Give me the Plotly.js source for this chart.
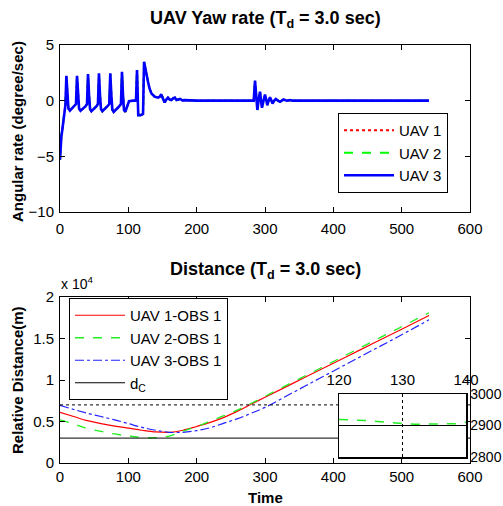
<!DOCTYPE html>
<html>
<head>
<meta charset="utf-8">
<script src="https://cdn.plot.ly/plotly-3.0.1.min.js"></script>
<style>html,body{margin:0;padding:0;background:#fff;}#chart{width:503px;height:506px;}</style>
</head>
<body>
<div id="chart"></div>
<script>
// ---- Yaw rate data (deg/sec) ----
const yawTime = [0,1,2,3,5,7,8,9.3,10.8,12.3,14.5,18,21,23.4,
  24.9,26.4,27.9,30,34,37.5,39.5,
  41,42.5,44,46,50,53.5,55.5,
  57,58.5,60,62,66,69.5,72.1,
  73.6,75.1,76.6,78.6,82.6,86,89.2,
  90.7,92.2,93.7,95.5,98,101,107,111.2,
  112.7,113.7,114.5,118,121.5,
  123,124.5,126.5,128.8,131,133.7,138.5,143.4,146,148.3,150.5,153.2,155.5,158,160.5,163,165.5,168,170.5,173,176,179,182,200,
  283.5,285.4,287,288.8,290.7,292.7,294,295.6,297.8,300,301.7,303.4,305.3,307.3,309,311,313.5,316,319,322,324.5,327,332,337,340,400,540];
const yawUAV1 = [-5.3,-3.8,-3.2,-2.8,-1.8,-0.8,-0.35,2.2,0.5,-0.7,-0.9,-0.7,-0.45,-0.3,
  2.2,0.5,-0.7,-0.9,-0.7,-0.5,-0.3,
  2.35,0.5,-0.75,-0.95,-0.75,-0.5,-0.3,
  2.4,0.5,-0.75,-0.95,-0.75,-0.5,-0.3,
  2.4,0.5,-0.8,-1.0,-0.8,-0.55,-0.3,
  2.55,0.5,-0.85,-1.0,-0.5,-0.05,0,0,
  2.7,0.2,-1.3,-1.3,-1.2,
  3.45,3.0,2.2,1.7,1.1,0.66,0.36,0.27,0.35,0.57,0.2,-0.15,0.1,0.27,0.1,0.06,0.2,0.27,0.05,0.1,0.15,0.03,0.05,0,
  0,1.75,0.5,-0.8,0.1,0.8,0.1,-0.6,0,0.5,0.1,-0.4,0,0.3,0.05,-0.25,0,0.15,0,-0.1,0,0.1,0,0.05,0,0,0];
const yawUAV2 = [-5.3,-3.6,-3.0,-2.6,-1.6,-0.7,-0.3,2.2,0.5,-0.7,-0.9,-0.7,-0.45,-0.3,
  2.2,0.5,-0.7,-0.9,-0.7,-0.5,-0.3,
  2.35,0.5,-0.75,-0.95,-0.75,-0.5,-0.3,
  2.4,0.5,-0.75,-0.95,-0.75,-0.5,-0.3,
  2.4,0.5,-0.8,-1.0,-0.8,-0.55,-0.3,
  2.55,0.5,-0.85,-1.0,-0.5,-0.05,0,0,
  2.7,0.2,-1.3,-1.3,-1.2,
  3.45,3.0,2.2,1.7,1.1,0.66,0.36,0.27,0.35,0.57,0.2,-0.15,0.1,0.27,0.1,0.06,0.2,0.27,0.05,0.1,0.15,0.03,0.05,0,
  0,1.7,0.5,-0.75,0.1,0.75,0.1,-0.55,0,0.45,0.1,-0.35,0,0.25,0.05,-0.2,0,0.1,0,-0.1,0,0.1,0,0.05,0,0,0];
const yawUAV3 = [-5.3,-3.8,-3.2,-2.8,-1.8,-0.8,-0.35,2.24,0.5,-0.7,-0.9,-0.7,-0.45,-0.3,
  2.24,0.5,-0.7,-0.9,-0.7,-0.5,-0.3,
  2.39,0.5,-0.75,-0.95,-0.75,-0.5,-0.3,
  2.45,0.5,-0.75,-0.95,-0.75,-0.5,-0.3,
  2.45,0.5,-0.8,-1.0,-0.8,-0.55,-0.3,
  2.6,0.5,-0.85,-1.0,-0.5,-0.05,0,0,
  2.75,0.2,-1.3,-1.3,-1.2,
  3.5,3.0,2.2,1.7,1.1,0.66,0.36,0.27,0.35,0.57,0.2,-0.15,0.1,0.27,0.1,0.06,0.2,0.27,0.05,0.1,0.15,0.03,0.05,0,
  0,1.8,0.5,-0.84,0.1,0.81,0.1,-0.64,0,0.54,0.1,-0.4,0,0.3,0.05,-0.25,0,0.15,0,-0.1,0,0.1,0,0.05,0,0,0];

// ---- Relative distance data (m) ----
const distTime = [0,20,40,60,80,100,120,140,160,180,200,220,240,260,280,300,340,380,420,460,500,540];
const distUAV1 = [6100,5600,5100,4750,4450,4200,3950,3750,3700,3950,4400,4900,5500,6250,7100,7920,9560,11200,12840,14480,16120,17780];
const distUAV2 = [5200,4700,4150,3800,3500,3250,3080,3050,3250,3850,4400,5050,5700,6400,7200,8040,9720,11390,13070,14750,16420,18100];
const distUAV3 = [6950,6450,6000,5600,5200,4750,4300,3950,3700,3700,3900,4250,4800,5350,6000,6700,8450,10200,11950,13700,15450,17250];
const refTime = [0, 600];
const dC = 3000;
const dotRef = 7000;
const distTicks = [0,5000,10000,15000,20000];
const distTickText = ['0','0.5','1','1.5','2'];

// ---- Inset data ----
const insetTime = [120,122,124,126,128,130,132,134,136,138,139,140];
const insetUAV2 = [2919,2918,2916,2913,2909,2906,2904,2904,2904,2904,2906,2910];
const insetLevel = 2900;
const insetXTicks = [120,130,140];
const insetYTicks = [2800,2900,3000];

const FONT = 'Liberation Sans, Arial, sans-serif';
const W = 503, H = 506;
const px = v => v / W, py = v => 1 - v / H;

const traces = [
  {x: yawTime, y: yawUAV1, xaxis:'x', yaxis:'y', mode:'lines', name:'UAV 1', legend:'legend',
   line:{color:'#ff0000', width:2, dash:'dot'}},
  {x: yawTime, y: yawUAV2, xaxis:'x', yaxis:'y', mode:'lines', name:'UAV 2', legend:'legend',
   line:{color:'#00ff00', width:2, dash:'dash'}},
  {x: yawTime, y: yawUAV3, xaxis:'x', yaxis:'y', mode:'lines', name:'UAV 3', legend:'legend',
   line:{color:'#0000ff', width:2.6}},

  {x: distTime, y: distUAV1, xaxis:'x2', yaxis:'y2', mode:'lines', name:'UAV 1-OBS 1', legend:'legend2',
   line:{color:'#ff0000', width:1.2, shape:'spline'}},
  {x: distTime, y: distUAV2, xaxis:'x2', yaxis:'y2', mode:'lines', name:'UAV 2-OBS 1', legend:'legend2',
   line:{color:'#22ee22', width:1.3, dash:'dash', shape:'spline'}},
  {x: distTime, y: distUAV3, xaxis:'x2', yaxis:'y2', mode:'lines', name:'UAV 3-OBS 1', legend:'legend2',
   line:{color:'#2222ff', width:1.2, dash:'dashdot', shape:'spline'}},
  {x: refTime, y: refTime.map(() => dC), xaxis:'x2', yaxis:'y2', mode:'lines', name:'d<sub>C</sub>', legend:'legend2',
   line:{color:'#000000', width:1}},
  {x: refTime, y: refTime.map(() => dotRef), xaxis:'x2', yaxis:'y2', mode:'lines', showlegend:false,
   line:{color:'#000000', width:1, dash:'dot'}},

  {x: insetTime, y: insetUAV2, xaxis:'x3', yaxis:'y3', mode:'lines', showlegend:false,
   line:{color:'#22ee22', width:1.5, dash:'dash'}},
  {x: [insetXTicks[0], insetXTicks[2]], y: [insetLevel, insetLevel], xaxis:'x3', yaxis:'y3', mode:'lines', showlegend:false,
   line:{color:'#000000', width:1.2}}
];

const axBase = {
  showline:true, linecolor:'#000', linewidth:1, mirror:'allticks',
  ticks:'inside', ticklen:5, tickcolor:'#000', tickwidth:1,
  showgrid:false, zeroline:false, fixedrange:true,
  tickfont:{family:FONT, size:15, color:'#000'}
};

const layout = {
  width:W, height:H,
  margin:{l:0, r:0, t:0, b:0},
  paper_bgcolor:'#fff', plot_bgcolor:'#fff',
  font:{family:FONT, color:'#000'},
  xaxis: Object.assign({}, axBase, {domain:[px(60), px(470)], anchor:'y', range:[0,600], tickvals:[0,100,200,300,400,500,600], ticklabelstandoff:3}),
  yaxis: Object.assign({}, axBase, {domain:[py(212), py(45)], anchor:'x', range:[-10,5], tickvals:[-10,-5,0,5], ticklabelstandoff:2}),
  xaxis2: Object.assign({}, axBase, {domain:[px(60), px(470)], anchor:'y2', range:[0,600], tickvals:[0,100,200,300,400,500,600], ticklabelstandoff:0}),
  yaxis2: Object.assign({}, axBase, {domain:[py(463), py(297)], anchor:'x2', range:[0,20000], tickvals:distTicks, ticktext:distTickText, ticklabelstandoff:2}),
  xaxis3: Object.assign({}, axBase, {domain:[px(339), px(466)], anchor:'y3', side:'top', range:[120,140], tickvals:insetXTicks,
    ticks:'', linewidth:1.5, showgrid:true, gridcolor:'#000', griddash:'dot', gridwidth:1, ticklabelstandoff:2}),
  yaxis3: Object.assign({}, axBase, {domain:[py(457), py(394)], anchor:'x3', side:'right', range:[2800,3000], tickvals:insetYTicks,
    ticks:'', linewidth:1.5, ticklabelstandoff:0, tickfont:{family:FONT, size:14, color:'#000'}}),
  shapes:[
    {type:'rect', xref:'x3', yref:'y3', x0:120, x1:140, y0:2800, y1:3000, fillcolor:'#fff', line:{width:0}, layer:'below'}
  ],
  legend:{x:px(338), y:py(113), xanchor:'left', yanchor:'top', bgcolor:'#fff', bordercolor:'#000', borderwidth:1,
    font:{family:FONT, size:15, color:'#000'}, itemwidth:50, traceorder:'normal'},
  legend2:{x:px(69), y:py(298), xanchor:'left', yanchor:'top', bgcolor:'#fff', bordercolor:'#000', borderwidth:1,
    font:{family:FONT, size:15, color:'#000'}, itemwidth:50, traceorder:'normal'},
  annotations:[
    {text:'<b>UAV Yaw rate (T<sub>d</sub> = 3.0 sec)</b>', xref:'paper', yref:'paper', x:px(265), y:py(20), xanchor:'center', yanchor:'middle',
     showarrow:false, font:{family:FONT, size:18, color:'#000'}},
    {text:'<b>Distance (T<sub>d</sub> = 3.0 sec)</b>', xref:'paper', yref:'paper', x:px(265), y:py(270), xanchor:'center', yanchor:'middle',
     showarrow:false, font:{family:FONT, size:18, color:'#000'}},
    {text:'<b>Angular rate (degree/sec)</b>', xref:'paper', yref:'paper', x:px(17), y:py(132), xanchor:'center', yanchor:'middle',
     textangle:-90, showarrow:false, font:{family:FONT, size:15, color:'#000'}},
    {text:'<b>Relative Distance(m)</b>', xref:'paper', yref:'paper', x:px(17), y:py(380), xanchor:'center', yanchor:'middle',
     textangle:-90, showarrow:false, font:{family:FONT, size:15, color:'#000'}},
    {text:'<b>Time</b>', xref:'paper', yref:'paper', x:px(265), y:py(497), xanchor:'center', yanchor:'middle',
     showarrow:false, font:{family:FONT, size:15, color:'#000'}},
    {text:'x 10<sup>4</sup>', xref:'paper', yref:'paper', x:px(59), y:py(283), xanchor:'left', yanchor:'middle',
     showarrow:false, font:{family:FONT, size:14, color:'#000'}}
  ]
};

Plotly.newPlot('chart', traces, layout, {displayModeBar:false, staticPlot:true});
</script>
</body>
</html>
